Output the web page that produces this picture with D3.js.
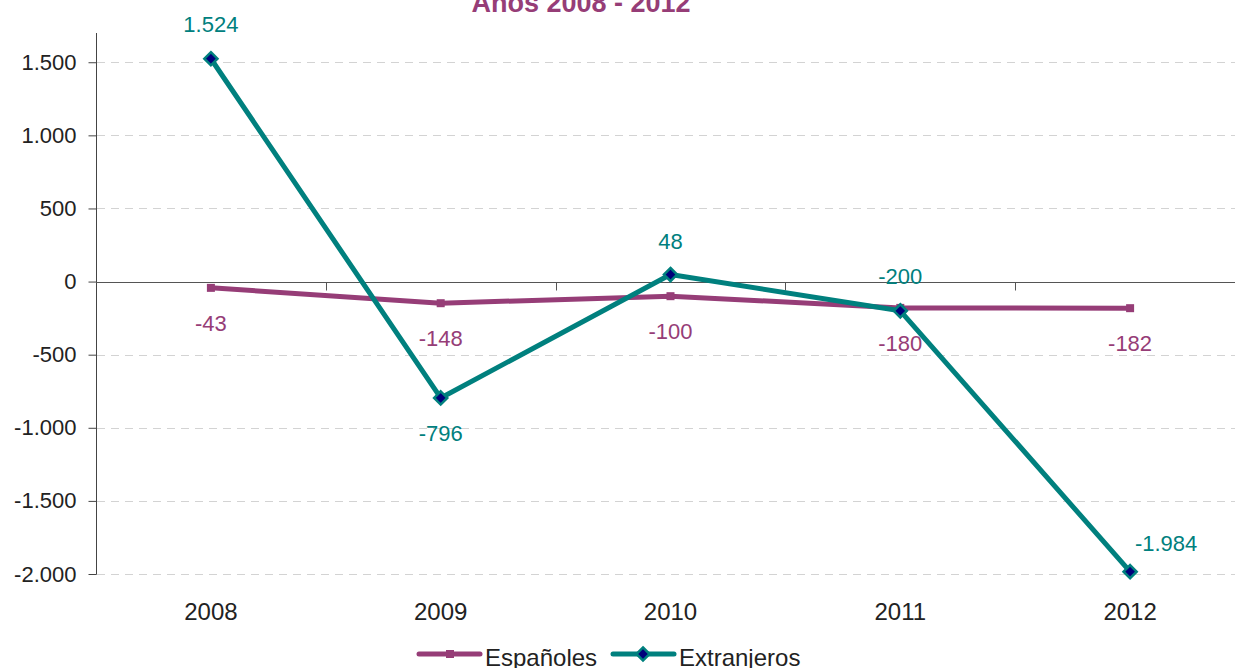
<!DOCTYPE html>
<html>
<head>
<meta charset="utf-8">
<script src="https://cdn.jsdelivr.net/npm/d3@7"></script>
<style>
  body { margin: 0; background: #fff; }
  svg { display: block; font-family: "Liberation Sans", Arial, sans-serif; }
</style>
</head>
<body>
<script>
// data
const years = ["2008", "2009", "2010", "2011", "2012"];
const espanoles = [-43, -148, -100, -180, -182];
const extranjeros = [1524, -796, 48, -200, -1984];
const yTicks = [-2000, -1500, -1000, -500, 0, 500, 1000, 1500];
const seriesNames = ["Españoles", "Extranjeros"];

// where each value label sits relative to its point
const espLabelOff = [[0, 43], [0, 43], [0, 43], [0, 43], [0, 43]];
const extLabelOff = [[0, -27], [0, 43], [0, -26], [0, -27], [36, -21]];

const W = 1235, H = 668;
const purple = "#963d77", teal = "#00807e", navy = "#00007a";

const svg = d3.select("body").append("svg")
    .attr("width", W)
    .attr("height", H);

const x = d3.scaleBand().domain(years).range([96, 96 + 5 * 229.8]);
const y = d3.scaleLinear().domain([-2000, 1700]).range([574, 33]);

// spanish style: dot for thousands, plain hyphen for minus
const fmt = v => d3.format(",")(v).replace(/,/g, ".").replace("\u2212", "-");

// gridlines
svg.append("g")
  .selectAll("line")
  .data(yTicks.filter(d => d !== 0))
  .join("line")
    .attr("x1", 97).attr("x2", W)
    .attr("y1", d => Math.round(y(d)) + 0.5)
    .attr("y2", d => Math.round(y(d)) + 0.5)
    .attr("stroke", "#d3d3d3")
    .attr("stroke-dasharray", "8,6");

// y axis
const yAxis = svg.append("g")
    .attr("transform", "translate(96.5,0)")
    .call(d3.axisLeft(y).tickValues(yTicks).tickSize(8).tickPadding(12).tickFormat(fmt));
yAxis.select(".domain").attr("stroke", "#444").attr("d", `M0,${y(1700)}V${Math.round(y(-2000)) + 0.5}`);
yAxis.selectAll(".tick line").attr("stroke", "#444");
yAxis.selectAll(".tick text")
    .attr("font-size", 22)
    .attr("fill", "#222")
    .attr("font-family", "'Liberation Sans', Arial, sans-serif");

// zero line with category ticks
const zeroY = Math.round(y(0)) + 0.5;
svg.append("line")
    .attr("x1", 96).attr("x2", W)
    .attr("y1", zeroY).attr("y2", zeroY)
    .attr("stroke", "#555").attr("stroke-width", 1.2);
svg.append("g")
  .selectAll("line")
  .data(years.slice(1))
  .join("line")
    .attr("x1", d => Math.round(x(d)) + 0.5)
    .attr("x2", d => Math.round(x(d)) + 0.5)
    .attr("y1", zeroY).attr("y2", zeroY + 8)
    .attr("stroke", "#555");

// category labels
svg.append("g")
  .selectAll("text")
  .data(years)
  .join("text")
    .attr("x", d => x(d) + x.bandwidth() / 2)
    .attr("y", 620)
    .attr("text-anchor", "middle")
    .attr("font-size", 24)
    .attr("fill", "#222")
    .text(d => d);

const cx = i => x(years[i]) + x.bandwidth() / 2;
const line = d3.line().x((d, i) => cx(i)).y(d => y(d));

// Españoles
svg.append("path")
    .datum(espanoles)
    .attr("d", line)
    .attr("fill", "none")
    .attr("stroke", purple)
    .attr("stroke-width", 5)
    .attr("stroke-linejoin", "round");
svg.append("g")
  .selectAll("rect")
  .data(espanoles)
  .join("rect")
    .attr("x", (d, i) => cx(i) - 4)
    .attr("y", d => y(d) - 4)
    .attr("width", 8).attr("height", 8)
    .attr("fill", purple);

// Extranjeros
svg.append("path")
    .datum(extranjeros)
    .attr("d", line)
    .attr("fill", "none")
    .attr("stroke", teal)
    .attr("stroke-width", 5)
    .attr("stroke-linejoin", "round");
const diamond = d3.symbol().type(d3.symbolDiamond2).size(110);
svg.append("g")
  .selectAll("path")
  .data(extranjeros)
  .join("path")
    .attr("d", diamond)
    .attr("transform", (d, i) => `translate(${cx(i)},${y(d)})`)
    .attr("fill", navy)
    .attr("stroke", teal)
    .attr("stroke-width", 2.5);

// value labels
svg.append("g")
  .selectAll("text")
  .data(espanoles)
  .join("text")
    .attr("x", (d, i) => cx(i) + espLabelOff[i][0])
    .attr("y", (d, i) => y(d) + espLabelOff[i][1])
    .attr("text-anchor", "middle")
    .attr("font-size", 22)
    .attr("fill", purple)
    .text(d => fmt(d));
svg.append("g")
  .selectAll("text")
  .data(extranjeros)
  .join("text")
    .attr("x", (d, i) => cx(i) + extLabelOff[i][0])
    .attr("y", (d, i) => y(d) + extLabelOff[i][1])
    .attr("text-anchor", "middle")
    .attr("font-size", 22)
    .attr("fill", teal)
    .text(d => fmt(d));

// title (cut off at the top, as in the original)
svg.append("text")
    .attr("x", 581).attr("y", 12)
    .attr("text-anchor", "middle")
    .attr("font-size", 27)
    .attr("font-weight", "bold")
    .attr("fill", purple)
    .text("Años 2008 - 2012");

// legend
const legend = svg.append("g");
const legX = [419, 613];
const legColors = [purple, teal];
seriesNames.forEach((name, i) => {
  const g = legend.append("g").attr("transform", `translate(${legX[i]},654)`);
  g.append("line").attr("x1", 0).attr("x2", 61)
    .attr("stroke", legColors[i]).attr("stroke-width", 5).attr("stroke-linecap", "round");
  if (i === 0) {
    g.append("rect").attr("x", 27).attr("y", -4).attr("width", 8).attr("height", 8).attr("fill", purple);
  } else {
    g.append("path").attr("d", diamond).attr("transform", "translate(30,0)")
      .attr("fill", navy).attr("stroke", teal).attr("stroke-width", 2.5);
  }
  g.append("text").attr("x", 66).attr("y", 12)
    .attr("font-size", 24).attr("fill", "#222").text(name);
});
</script>
</body>
</html>
